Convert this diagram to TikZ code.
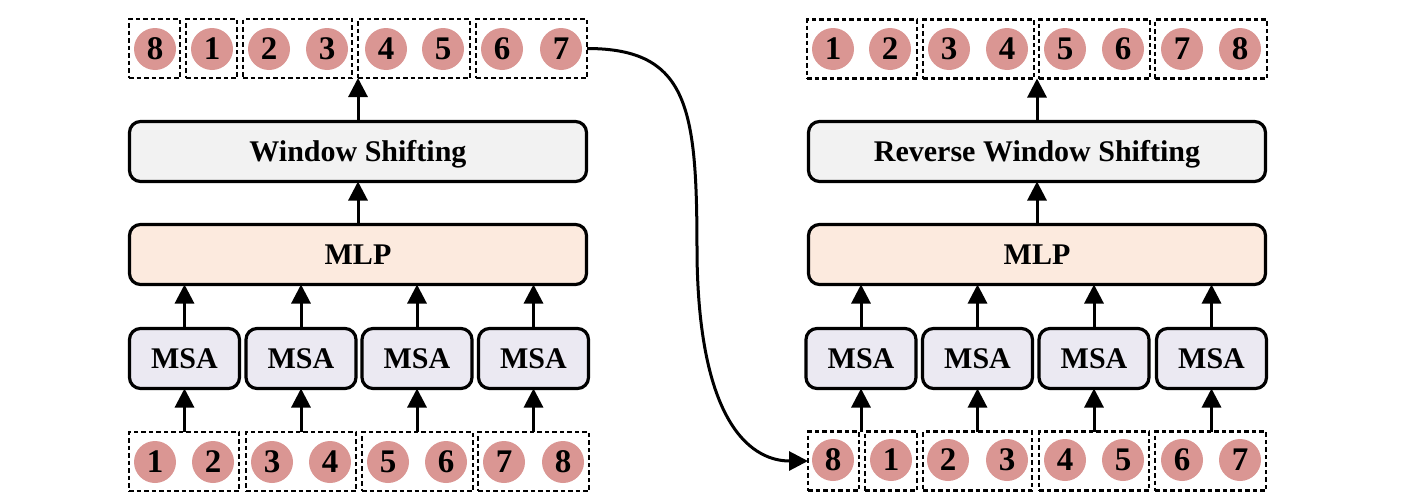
\documentclass[tikz,border=0pt]{standalone}
\usepackage{fontspec}
\setmainfont{Liberation Serif}
\usetikzlibrary{arrows.meta}
\definecolor{tokfill}{RGB}{218,150,147}
\definecolor{wsfill}{RGB}{242,242,242}
\definecolor{mlpfill}{RGB}{252,234,222}
\definecolor{msafill}{RGB}{235,233,242}
\begin{document}
\begin{tikzpicture}[x=1pt,y=-1pt,
  rbox/.style={draw, line width=3.2pt, rounded corners=11pt, inner sep=0pt, outer sep=0pt,
    minimum height=60pt, text height=20pt, text depth=0pt,
    font=\fontsize{30}{30}\selectfont\bfseries},
  wide/.style={rbox, minimum width=457pt},
  msabox/.style={rbox, fill=msafill, minimum width=110pt},
  win/.style={draw, dash pattern=on 4.5pt off 3pt, line width=2.6pt, inner sep=0pt, outer sep=0pt,
    minimum height=59pt},
  tok/.style={circle, fill=tokfill, minimum size=42pt, inner sep=0pt,
    font=\fontsize{33}{33}\selectfont\bfseries},
  arr/.style={line width=3pt, -{Triangle[length=19pt,width=19pt]}}
]
\useasboundingbox (0,0) rectangle (1407,498);

% ---------- left column ----------
\node[win, minimum width=51pt]  (t8)  at (154.5,48.5) {};
\node[win, minimum width=51pt]  (t1)  at (211.5,48.5) {};
\node[win, minimum width=109pt] (t23) at (297.5,48.5) {};
\node[win, minimum width=112pt] (t45) at (414,48.5) {};
\node[win, minimum width=111pt] (t67) at (531.5,48.5) {};
\foreach \n/\x [count=\k] in {8/155,1/212,2/269,3/327,4/386,5/443,6/502,7/561}
  \node[tok] (ltc\k) at (\x,49) {\n};

\node[wide, fill=wsfill]  (ws)  at (358,151.5) {Window Shifting};
\node[wide, fill=mlpfill] (mlp) at (358,254.5) {MLP};

\node[msabox] (m1) at (184.5,358.5) {MSA};
\node[msabox] (m2) at (301,358.5) {MSA};
\node[msabox] (m3) at (417,358.5) {MSA};
\node[msabox] (m4) at (533.5,358.5) {MSA};

\node[win, minimum width=110pt] (b12) at (184,461.5) {};
\node[win, minimum width=110pt] (b34) at (301,461.5) {};
\node[win, minimum width=111pt] (b56) at (417.5,461.5) {};
\node[win, minimum width=111pt] (b78) at (533.5,461.5) {};
\foreach \n/\x [count=\k] in {1/155,2/213,3/272,4/330,5/388,6/446,7/504,8/563}
  \node[tok] (lbc\k) at (\x,462) {\n};

\foreach \b/\m in {b12/m1,b34/m2,b56/m3,b78/m4}{
  \draw[arr] (\m.south |- \b.north) -- (\m.south);
  \draw[arr] (\m.north) -- (\m.north |- mlp.south);
}
\draw[arr] (mlp.north) -- (ws.south);
\draw[arr] (ws.north) -- (ws.north |- t23.south);

% ---------- right column ----------
\node[win, minimum width=110pt] (r12) at (862,49) {};
\node[win, minimum width=111pt] (r34) at (978.5,49) {};
\node[win, minimum width=111pt] (r56) at (1094.5,49) {};
\node[win, minimum width=112pt] (r78) at (1211,49) {};
\foreach \n/\x [count=\k] in {1/833,2/890,3/949,4/1007,5/1065,6/1123,7/1182,8/1240}
  \node[tok] (rtc\k) at (\x,49) {\n};

\node[wide, fill=wsfill]  (rws)  at (1037,151.5) {Reverse Window Shifting};
\node[wide, fill=mlpfill] (rmlp) at (1037,254.5) {MLP};

\node[msabox] (rm1) at (861,358.5) {MSA};
\node[msabox] (rm2) at (977.5,358.5) {MSA};
\node[msabox] (rm3) at (1094,358.5) {MSA};
\node[msabox] (rm4) at (1211.5,358.5) {MSA};

\node[win, minimum width=51pt]  (rb8)  at (833.5,461) {};
\node[win, minimum width=52pt]  (rb1)  at (891,461) {};
\node[win, minimum width=109pt] (rb23) at (977.5,461) {};
\node[win, minimum width=110pt] (rb45) at (1094,461) {};
\node[win, minimum width=111pt] (rb67) at (1210.5,461) {};
\foreach \n/\x [count=\k] in {8/833,1/891,2/948,3/1007,4/1065,5/1123,6/1182,7/1240}
  \node[tok] (rbc\k) at (\x,460) {\n};

\draw[arr] (rm1.south |- rb8.north) -- (rm1.south);
\draw[arr] (rm2.south |- rb23.north) -- (rm2.south);
\draw[arr] (rm3.south |- rb45.north) -- (rm3.south);
\draw[arr] (rm4.south |- rb67.north) -- (rm4.south);
\foreach \m in {rm1,rm2,rm3,rm4}
  \draw[arr] (\m.north) -- (\m.north |- rmlp.south);
\draw[arr] (rmlp.north) -- (rws.south);
\draw[arr] (rws.north) -- (rws.north |- r34.south);

% ---------- connector ----------
\coordinate (mid) at (697,255);
\draw[arr] (t67.east) .. controls (690,48.5) and (697,110) .. (mid)
  .. controls (699,430) and (755,461) .. (rb8.west);
\end{tikzpicture}
\end{document}
